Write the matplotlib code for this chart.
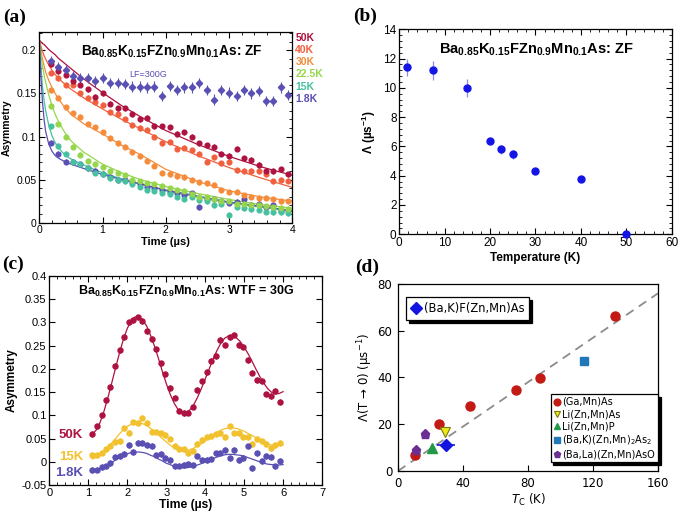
import matplotlib
matplotlib.use('Agg')
import matplotlib.pyplot as plt
from matplotlib.ticker import MultipleLocator, NullLocator, FuncFormatter
from matplotlib.lines import Line2D

plt.rcParams['font.family'] = ['Liberation Sans', 'DejaVu Sans']
plt.rcParams['mathtext.fontset'] = 'custom'
plt.rcParams['mathtext.rm'] = 'DejaVu Sans'
plt.rcParams['mathtext.it'] = 'DejaVu Sans:italic'
plt.rcParams['mathtext.bf'] = 'Liberation Sans:bold'

# ---------------- Panel (a): ZF asymmetry ----------------
t_a = [0.18, 0.30, 0.42, 0.53, 0.65, 0.77, 0.88, 1.00, 1.12, 1.24, 1.35, 1.47, 1.59,
       1.71, 1.82, 1.94, 2.06, 2.18, 2.29, 2.41, 2.53, 2.65, 2.76, 2.88, 3.00, 3.12,
       3.23, 3.35, 3.47, 3.59, 3.70, 3.82, 3.94]
a_lf = [0.188, 0.181, 0.177, 0.170, 0.168, 0.168, 0.164, 0.168, 0.162, 0.162, 0.161, 0.158,
        0.158, 0.157, 0.158, 0.147, 0.159, 0.154, 0.157, 0.157, 0.162, 0.154, 0.143, 0.154,
        0.151, 0.147, 0.154, 0.150, 0.153, 0.141, 0.141, 0.157, 0.148]
a_50 = [0.184, 0.176, 0.172, 0.165, 0.160, 0.155, 0.146, 0.150, 0.138, 0.133, 0.133, 0.126,
        0.120, 0.122, 0.112, 0.112, 0.111, 0.103, 0.105, 0.100, 0.092, 0.090, 0.088, 0.080,
        0.078, 0.086, 0.075, 0.073, 0.067, 0.060, 0.060, 0.062, 0.056]
a_40 = [0.174, 0.168, 0.160, 0.160, 0.150, 0.145, 0.140, 0.137, 0.128, 0.126, 0.120, 0.113,
        0.110, 0.108, 0.100, 0.092, 0.094, 0.086, 0.087, 0.084, 0.080, 0.071, 0.076, 0.069,
        0.070, 0.061, 0.060, 0.060, 0.060, 0.056, 0.048, 0.050, 0.049]
a_30 = [0.154, 0.145, 0.134, 0.127, 0.123, 0.115, 0.111, 0.105, 0.098, 0.092, 0.088, 0.082,
        0.078, 0.072, 0.066, 0.058, 0.056, 0.054, 0.053, 0.050, 0.047, 0.046, 0.044, 0.038,
        0.036, 0.036, 0.032, 0.030, 0.029, 0.029, 0.027, 0.025, 0.025]
a_22 = [0.135, 0.115, 0.100, 0.088, 0.079, 0.072, 0.068, 0.065, 0.060, 0.058, 0.055, 0.050,
        0.048, 0.046, 0.045, 0.043, 0.040, 0.038, 0.037, 0.033, 0.030, 0.030, 0.028, 0.025,
        0.025, 0.022, 0.022, 0.020, 0.020, 0.019, 0.018, 0.017, 0.016]
a_15 = [0.112, 0.089, 0.080, 0.070, 0.068, 0.064, 0.058, 0.056, 0.052, 0.050, 0.048, 0.045,
        0.042, 0.038, 0.037, 0.035, 0.033, 0.030, 0.028, 0.030, 0.026, 0.025, 0.020, 0.022,
        0.009, 0.018, 0.017, 0.016, 0.015, 0.013, 0.012, 0.012, 0.011]
a_18 = [0.093, 0.080, 0.071, 0.070, 0.068, 0.063, 0.060, 0.057, 0.053, 0.050, 0.050, 0.047,
        0.045, 0.042, 0.040, 0.038, 0.036, 0.035, 0.032, 0.034, 0.018, 0.028, 0.027, 0.025,
        0.023, 0.024, 0.027, 0.020, 0.022, 0.018, 0.020, 0.014, 0.015]
err_a_zf = 0.003
err_a_lf = 0.006

tfit_a = [0, 0.025, 0.05, 0.075, 0.1, 0.15, 0.2, 0.25, 0.3, 0.4, 0.5, 0.7, 1.0, 1.3, 1.6,
          2.0, 2.5, 3.0, 3.5, 4.0]
fit_a_50 = [0.212, 0.210, 0.208, 0.207, 0.205, 0.201, 0.198, 0.195, 0.191, 0.185, 0.179,
            0.167, 0.151, 0.136, 0.123, 0.107, 0.091, 0.077, 0.065, 0.055]
fit_a_40 = [0.212, 0.205, 0.199, 0.194, 0.190, 0.183, 0.177, 0.172, 0.168, 0.161, 0.155,
            0.145, 0.132, 0.120, 0.109, 0.094, 0.078, 0.064, 0.052, 0.041]
fit_a_30 = [0.212, 0.200, 0.190, 0.182, 0.175, 0.165, 0.157, 0.150, 0.144, 0.134, 0.126,
            0.115, 0.103, 0.090, 0.079, 0.062, 0.048, 0.037, 0.030, 0.025]
fit_a_22 = [0.212, 0.195, 0.182, 0.172, 0.163, 0.148, 0.136, 0.126, 0.118, 0.105, 0.095,
            0.082, 0.068, 0.058, 0.050, 0.042, 0.034, 0.027, 0.021, 0.017]
fit_a_15 = [0.212, 0.180, 0.158, 0.142, 0.130, 0.113, 0.101, 0.093, 0.087, 0.079, 0.074,
            0.067, 0.058, 0.051, 0.045, 0.037, 0.030, 0.023, 0.018, 0.013]
fit_a_18 = [0.212, 0.170, 0.140, 0.120, 0.106, 0.091, 0.083, 0.078, 0.075, 0.071, 0.068,
            0.063, 0.056, 0.050, 0.045, 0.038, 0.031, 0.024, 0.019, 0.014]
labels_a = ['50K', '40K', '30K', '22.5K', '15K', '1.8K']

# ---------------- Panel (b): relaxation rate ----------------
T_b = [1.8, 7.5, 15, 20, 22.5, 25, 30, 40, 50]
lam_b = [11.4, 11.2, 10.0, 6.4, 5.8, 5.45, 4.3, 3.8, 0.0]
lam_b_err = [0.6, 0.65, 0.6, 0.15, 0.3, 0.3, 0.12, 0.12, 0.1]

# ---------------- Panel (c): WTF = 30 G ----------------
t_c = [1.10, 1.22, 1.34, 1.45, 1.57, 1.69, 1.81, 1.92, 2.04, 2.16, 2.28, 2.39, 2.51, 2.63,
       2.75, 2.86, 2.98, 3.10, 3.22, 3.33, 3.45, 3.57, 3.69, 3.80, 3.92, 4.04, 4.16, 4.27,
       4.39, 4.51, 4.63, 4.74, 4.86, 4.98, 5.10, 5.21, 5.33, 5.45, 5.57, 5.68, 5.80, 5.92]
c_50 = [0.060, 0.076, 0.100, 0.134, 0.161, 0.206, 0.240, 0.269, 0.300, 0.305, 0.311, 0.303,
        0.282, 0.264, 0.242, 0.212, 0.188, 0.159, 0.138, 0.110, 0.105, 0.106, 0.119, 0.154,
        0.173, 0.193, 0.217, 0.228, 0.262, 0.251, 0.269, 0.274, 0.251, 0.248, 0.219, 0.192,
        0.176, 0.173, 0.145, 0.142, 0.152, 0.129]
c_15 = [0.015, 0.014, 0.020, 0.027, 0.035, 0.042, 0.045, 0.072, 0.063, 0.085, 0.083, 0.095,
        0.083, 0.065, 0.065, 0.061, 0.058, 0.050, 0.035, 0.027, 0.027, 0.018, 0.024, 0.038,
        0.047, 0.054, 0.055, 0.060, 0.061, 0.054, 0.076, 0.061, 0.061, 0.054, 0.054, 0.038,
        0.049, 0.044, 0.038, 0.029, 0.036, 0.041]
c_18 = [-0.018, -0.017, -0.011, -0.010, -0.002, 0.011, 0.013, 0.017, 0.036, 0.021, 0.041,
        0.040, 0.036, 0.034, 0.014, 0.017, 0.008, 0.004, -0.010, -0.008, -0.007, -0.005,
        -0.007, 0.013, 0.004, 0.004, 0.005, 0.018, 0.020, 0.025, 0.008, 0.025, 0.004, 0.008,
        0.033, -0.014, 0.018, 0.002, 0.013, 0.010, -0.010, 0.002]
err_c = 0.006

tfit_c = [1.1, 1.2, 1.3, 1.4, 1.5, 1.6, 1.7, 1.8, 1.9, 2.0, 2.1, 2.2, 2.3, 2.4, 2.5, 2.6,
          2.7, 2.8, 2.9, 3.0, 3.1, 3.2, 3.3, 3.4, 3.5, 3.6, 3.7, 3.8, 3.9, 4.0, 4.1, 4.2,
          4.3, 4.4, 4.5, 4.6, 4.7, 4.8, 4.9, 5.0, 5.1, 5.2, 5.3, 5.4, 5.5, 5.6, 5.7, 5.8,
          5.9, 6.0]
fit_c_50 = [0.059, 0.068, 0.084, 0.108, 0.137, 0.169, 0.202, 0.234, 0.263, 0.287, 0.303,
            0.312, 0.312, 0.305, 0.292, 0.272, 0.249, 0.223, 0.195, 0.169, 0.146, 0.127,
            0.113, 0.106, 0.106, 0.111, 0.122, 0.138, 0.157, 0.178, 0.199, 0.221, 0.239,
            0.255, 0.266, 0.271, 0.272, 0.267, 0.259, 0.247, 0.233, 0.217, 0.200, 0.184,
            0.170, 0.158, 0.150, 0.146, 0.147, 0.151]
fit_c_15 = [0.006, 0.009, 0.014, 0.021, 0.030, 0.040, 0.050, 0.060, 0.069, 0.076, 0.081,
            0.084, 0.084, 0.082, 0.078, 0.072, 0.066, 0.058, 0.050, 0.043, 0.036, 0.030,
            0.026, 0.024, 0.024, 0.026, 0.029, 0.034, 0.039, 0.045, 0.052, 0.058, 0.063,
            0.068, 0.071, 0.073, 0.073, 0.072, 0.069, 0.066, 0.061, 0.057, 0.052, 0.047,
            0.042, 0.039, 0.036, 0.035, 0.035, 0.036]
fit_c_18 = [-0.019, -0.018, -0.015, -0.011, -0.007, -0.002, 0.004, 0.009, 0.013, 0.017,
            0.020, 0.021, 0.021, 0.020, 0.018, 0.014, 0.011, 0.006, 0.002, -0.003, -0.006,
            -0.010, -0.012, -0.013, -0.013, -0.012, -0.010, -0.007, -0.004, 0.000, 0.003,
            0.007, 0.010, 0.013, 0.015, 0.016, 0.016, 0.015, 0.014, 0.012, 0.009, 0.006,
            0.003, 0.000, -0.003, -0.005, -0.006, -0.007, -0.007, -0.006]
labels_c = ['50K', '15K', '1.8K']
label_c_y = [0.057, 0.010, -0.024]

# ---------------- Panel (d): Lambda vs Tc ----------------
gamn_T = [10.3, 25, 44.1, 72.4, 87.4, 133.7]
gamn_L = [6.9, 20.1, 28.0, 34.7, 39.9, 66.4]
lzmas_T = [28.7]
lzmas_L = [16.6]
lzmp_T = [20.9]
lzmp_L = [9.7]
bkzma_T = [114.3]
bkzma_L = [46.9]
blzmo_T = [11.3, 16.6]
blzmo_L = [9.1, 16.0]
bkf_T = [29.5]
bkf_L = [11.1]
bkf_Terr = [5.5]
bkf_Lerr = [1.0]
guide_x = [0, 160]
guide_y = [0, 76]

# ---------------- Figure ----------------
col50 = '#ad1240'
col40 = '#f0603e'
col30 = '#f58c3c'
col22 = '#96d64c'
col15a = '#46c1a0'
col18 = '#5a4fb3'
col15c = '#f2c12e'

fig = plt.figure(figsize=(6.85, 5.14), dpi=100)
fmt_g = FuncFormatter(lambda v, p: '%g' % round(v, 4))


def igor(ax, fs):
    ax.tick_params(which='both', direction='in', top=True, right=True, labelsize=fs, pad=2)
    ax.tick_params(which='major', length=4, width=0.8)
    ax.tick_params(which='minor', length=2, width=0.6)
    for s in ax.spines.values():
        s.set_linewidth(0.9)


title_chem = r'Ba$_\mathbf{0.85}$K$_\mathbf{0.15}$FZn$_\mathbf{0.9}$Mn$_\mathbf{0.1}$As'

# (a)
axA = fig.add_axes([0.0574, 0.5667, 0.3693, 0.3704])
cols_a = [col50, col40, col30, col22, col15a, col18]
fits_a = [fit_a_50, fit_a_40, fit_a_30, fit_a_22, fit_a_15, fit_a_18]
data_a = [a_50, a_40, a_30, a_22, a_15, a_18]
for c, f in zip(cols_a, fits_a):
    axA.plot(tfit_a, f, color=c, lw=0.9)
for c, d in zip(cols_a[::-1], data_a[::-1]):
    axA.errorbar(t_a, d, yerr=err_a_zf, fmt='o', ms=3.4, color=c, ecolor=c,
                 elinewidth=0.7, capsize=0)
axA.errorbar(t_a, a_lf, yerr=err_a_lf, fmt='D', ms=3.2, color=col18, ecolor=col18,
             elinewidth=0.8, capsize=0)
axA.set_xlim(0, 4)
axA.set_ylim(0, 0.221)
axA.xaxis.set_major_locator(MultipleLocator(1))
axA.xaxis.set_minor_locator(MultipleLocator(0.2))
axA.yaxis.set_major_locator(MultipleLocator(0.05))
axA.yaxis.set_minor_locator(MultipleLocator(0.01))
axA.yaxis.set_major_formatter(fmt_g)
igor(axA, 7.5)
axA.set_xlabel('Time (µs)', fontsize=8, fontweight='bold', labelpad=1)
axA.set_ylabel('Asymmetry', fontsize=7.5, fontweight='bold', labelpad=3)
axA.text(0.525, 0.9, title_chem + ': ZF', transform=axA.transAxes, ha='center',
         va='center', fontsize=9.8, fontweight='bold')
axA.text(0.43, 0.776, 'LF=300G', transform=axA.transAxes, ha='center', va='center',
         fontsize=6.5, color=col18)
lab_y_a = [0.970, 0.906, 0.843, 0.780, 0.713, 0.651]
for lab, c, yy in zip(labels_a, cols_a, lab_y_a):
    axA.text(1.012, yy, lab, transform=axA.transAxes, ha='left', va='center',
             fontsize=7.5, fontweight='bold', color=c)

# (b)
axB = fig.add_axes([0.5829, 0.5442, 0.3977, 0.3988])
axB.errorbar(T_b, lam_b, yerr=lam_b_err, fmt='o', ms=5, color='#1414e6',
             ecolor='#8a8af0', elinewidth=0.9, capsize=0, clip_on=False, zorder=3)
axB.set_xlim(0, 60)
axB.set_ylim(0, 14)
axB.xaxis.set_major_locator(MultipleLocator(10))
axB.xaxis.set_minor_locator(MultipleLocator(2))
axB.yaxis.set_major_locator(MultipleLocator(2))
axB.yaxis.set_minor_locator(MultipleLocator(0.4))
igor(axB, 8.5)
axB.set_xlabel('Temperature (K)', fontsize=8.5, fontweight='bold', labelpad=2)
axB.set_ylabel(r'Λ (µs$^\mathbf{-1}$)', fontsize=8.5, fontweight='bold', labelpad=4)
axB.text(0.502, 0.9, title_chem + ': ZF', transform=axB.transAxes, ha='center',
         va='center', fontsize=10.5, fontweight='bold')

# (c)
axC = fig.add_axes([0.0720, 0.0564, 0.3981, 0.4066])
cols_c = [col50, col15c, col18]
fits_c = [fit_c_50, fit_c_15, fit_c_18]
data_c = [c_50, c_15, c_18]
for c, f in zip(cols_c, fits_c):
    axC.plot(tfit_c, f, color=c, lw=0.9)
for c, d in zip(cols_c, data_c):
    axC.errorbar(t_c, d, yerr=err_c, fmt='o', ms=3.6, color=c, ecolor=c,
                 elinewidth=0.7, capsize=0)
axC.set_xlim(0, 7)
axC.set_ylim(-0.05, 0.4)
axC.xaxis.set_major_locator(MultipleLocator(1))
axC.xaxis.set_minor_locator(MultipleLocator(0.2))
axC.yaxis.set_major_locator(MultipleLocator(0.05))
axC.yaxis.set_minor_locator(NullLocator())
axC.yaxis.set_major_formatter(fmt_g)
igor(axC, 8)
axC.set_xlabel('Time (µs)', fontsize=8.7, fontweight='bold', labelpad=1)
axC.set_ylabel('Asymmetry', fontsize=8.5, fontweight='bold', labelpad=3)
axC.text(0.501, 0.928, title_chem + ': WTF = 30G', transform=axC.transAxes,
         ha='center', va='center', fontsize=9, fontweight='bold')
for lab, c, yy in zip(labels_c, cols_c, label_c_y):
    axC.text(0.87, yy, lab, ha='right', va='center', fontsize=9.5,
             fontweight='bold', color=c)

# (d)
dj = ['DejaVu Sans']
axD = fig.add_axes([0.5810, 0.0837, 0.3796, 0.3638])
axD.plot(guide_x, guide_y, color='#8c8c8c', lw=1.3, dashes=(5, 3.5), zorder=1)
h1, = axD.plot(gamn_T, gamn_L, 'o', ms=6.5, color='#c41a14', mec='#c41a14', ls='none')
h2, = axD.plot(lzmas_T, lzmas_L, 'v', ms=6.5, color='#eeea1a', mec='#7a7a10',
               mew=0.8, ls='none')
h3, = axD.plot(lzmp_T, lzmp_L, '^', ms=6.5, color='#219a48', ls='none')
h4, = axD.plot(bkzma_T, bkzma_L, 's', ms=6, color='#2178b8', ls='none')
h5, = axD.plot(blzmo_T, blzmo_L, 'p', ms=6.5, color='#6b2f93', ls='none')
axD.errorbar(bkf_T, bkf_L, xerr=bkf_Terr, yerr=bkf_Lerr, fmt='D', ms=6,
             color='#1414e0', ecolor='#1414e0', elinewidth=1.2, capsize=0, zorder=4)
axD.set_xlim(0, 160)
axD.set_ylim(0, 80)
axD.xaxis.set_major_locator(MultipleLocator(40))
axD.yaxis.set_major_locator(MultipleLocator(20))
axD.tick_params(direction='in', length=4, width=0.8, labelsize=8.5, pad=4)
for lab in axD.get_xticklabels() + axD.get_yticklabels():
    lab.set_family(dj)
for s in axD.spines.values():
    s.set_linewidth(0.9)
axD.set_xlabel(r'$T_\mathrm{C}$ (K)', fontsize=8.5, family=dj, labelpad=2)
axD.set_ylabel(r'$\mathit{\Lambda}$(T → 0) (µs$^{-1}$)', fontsize=8.5, family=dj,
               labelpad=2)
hd = Line2D([], [], marker='D', ms=6, color='#1414e0', ls='none')
leg1 = axD.legend([hd], ['(Ba,K)F(Zn,Mn)As'], loc='upper left',
                  bbox_to_anchor=(0.03, 0.93), borderaxespad=0, fancybox=False,
                  shadow={'color': 'black', 'alpha': 1}, edgecolor='black',
                  framealpha=1, handlelength=0.8, handletextpad=0.3, borderpad=0.45,
                  prop={'family': dj, 'size': 8.3})
leg1.get_frame().set_linewidth(0.9)
axD.add_artist(leg1)
leg2 = axD.legend([h1, h2, h3, h4, h5],
                  ['(Ga,Mn)As', 'Li(Zn,Mn)As', 'Li(Zn,Mn)P',
                   r'(Ba,K)(Zn,Mn)$_2$As$_2$', '(Ba,La)(Zn,Mn)AsO'],
                  loc='lower right', bbox_to_anchor=(1.0, 0.048), borderaxespad=0,
                  fancybox=False, shadow={'color': 'black', 'alpha': 1},
                  edgecolor='black', framealpha=1, handlelength=0.6,
                  handletextpad=0.3, borderpad=0.3, labelspacing=0.22,
                  markerscale=0.75, prop={'family': dj, 'size': 7.0})
leg2.get_frame().set_linewidth(0.9)

# panel labels
serif = ['Liberation Serif', 'DejaVu Serif']
fig.text(0.004, 0.983, '(a)', fontsize=14, fontweight='bold', family=serif, va='top')
fig.text(0.516, 0.985, '(b)', fontsize=14, fontweight='bold', family=serif, va='top')
fig.text(0.003, 0.502, '(c)', fontsize=14, fontweight='bold', family=serif, va='top')
fig.text(0.518, 0.496, '(d)', fontsize=14, fontweight='bold', family=serif, va='top')

fig.savefig('out.png', dpi=100)
